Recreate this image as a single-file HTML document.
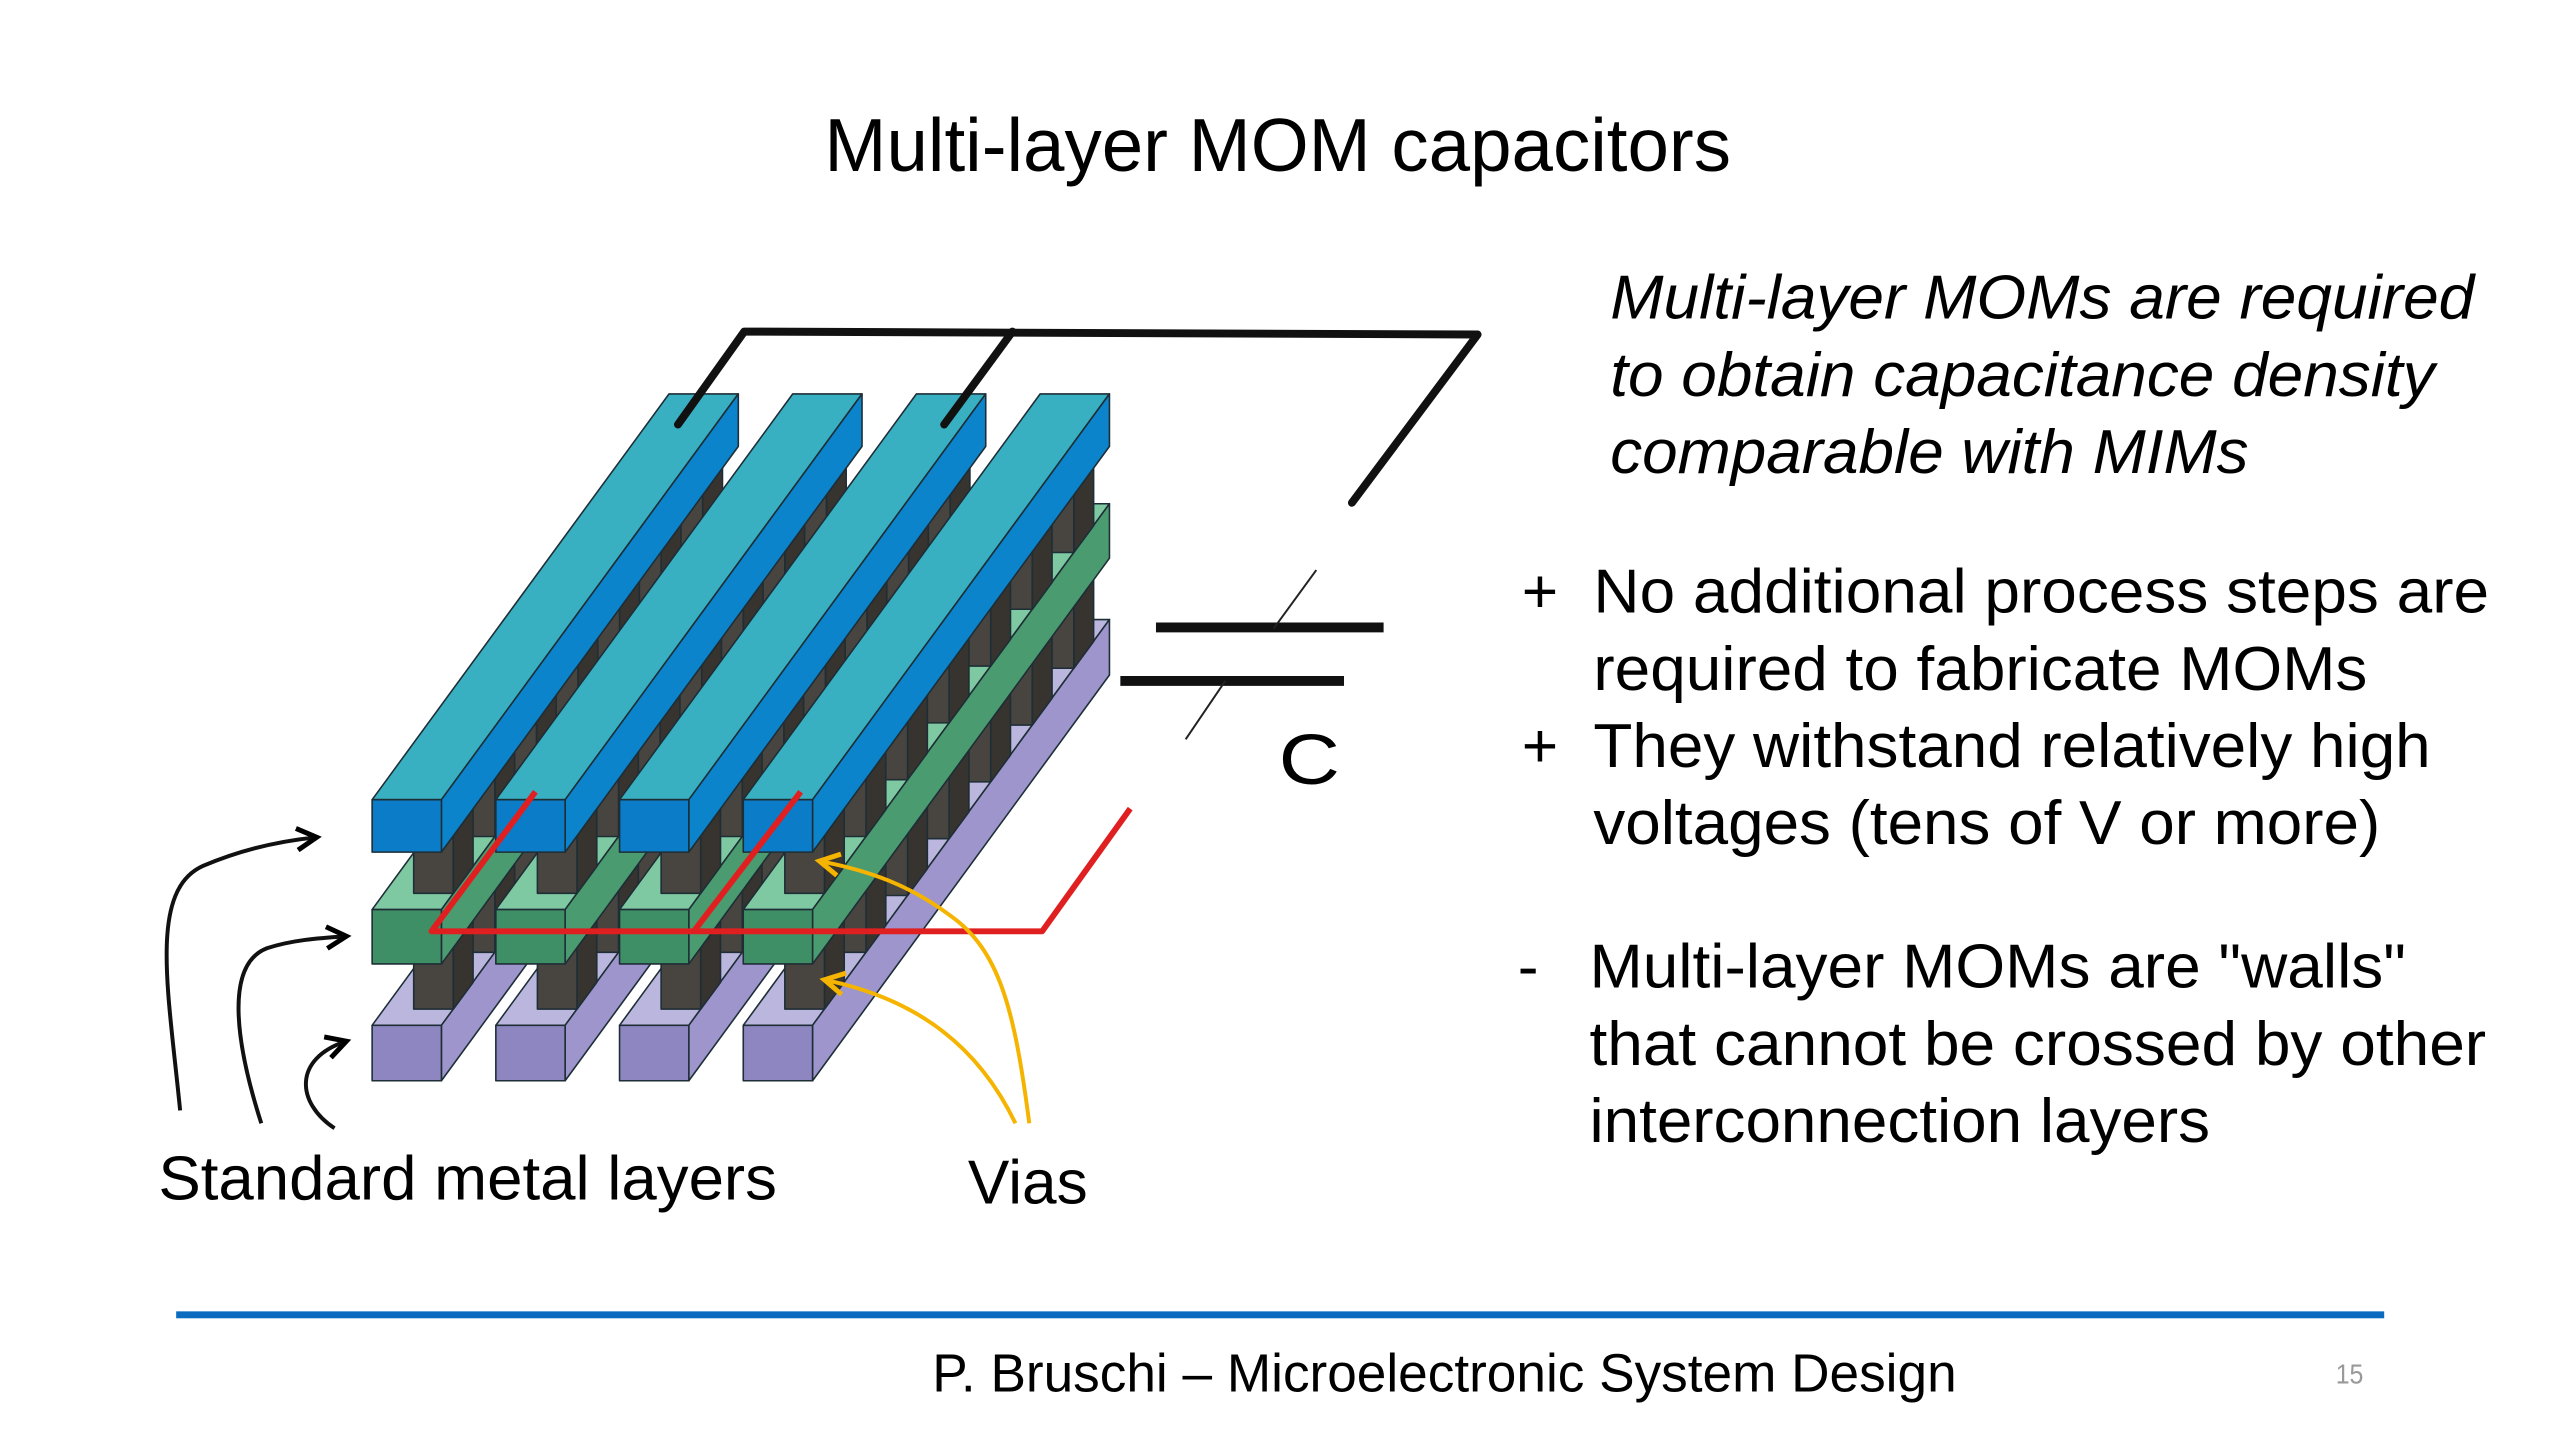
<!DOCTYPE html>
<html><head><meta charset="utf-8"><style>
html,body{margin:0;padding:0;background:#fff;width:2560px;height:1440px;overflow:hidden}
svg{display:block}
text{font-family:"Liberation Sans",Arial,sans-serif;fill:#000}
</style></head><body>
<svg id="s" width="2560" height="1440" viewBox="0 0 2560 1440" xmlns="http://www.w3.org/2000/svg">
<defs>
<marker id="ay" markerWidth="30" markerHeight="30" refX="24" refY="15" orient="auto" markerUnits="userSpaceOnUse"><path d="M4,4 L24,15 L4,26" fill="none" stroke="#f5b400" stroke-width="5"/></marker>
<marker id="ab" markerWidth="30" markerHeight="30" refX="24" refY="15" orient="auto" markerUnits="userSpaceOnUse"><path d="M4,4 L24,15 L4,26" fill="none" stroke="#000" stroke-width="5"/></marker>
</defs>
<g transform="scale(0.9897)">
<text x="1291" y="173" font-size="76" text-anchor="middle" textLength="916" lengthAdjust="spacingAndGlyphs">Multi-layer MOM capacitors</text>
<g id="d"></g>
<g font-style="italic" font-size="63">
<text x="1627" y="322" textLength="873" lengthAdjust="spacingAndGlyphs">Multi-layer MOMs are required</text>
<text x="1627" y="400" textLength="833" lengthAdjust="spacingAndGlyphs">to obtain capacitance density</text>
<text x="1627" y="478" textLength="645" lengthAdjust="spacingAndGlyphs">comparable with MIMs</text>
</g>
<g font-size="63">
<text x="1556" y="619" text-anchor="middle">+</text>
<text x="1610" y="619" textLength="905" lengthAdjust="spacingAndGlyphs">No additional process steps are</text>
<text x="1610" y="697" textLength="782" lengthAdjust="spacingAndGlyphs">required to fabricate MOMs</text>
<text x="1556" y="775" text-anchor="middle">+</text>
<text x="1610" y="775" textLength="846" lengthAdjust="spacingAndGlyphs">They withstand relatively high</text>
<text x="1610" y="853" textLength="795" lengthAdjust="spacingAndGlyphs">voltages (tens of V or more)</text>
<text x="1544" y="998" text-anchor="middle">-</text>
<text x="1606" y="998" textLength="825" lengthAdjust="spacingAndGlyphs">Multi-layer MOMs are "walls"</text>
<text x="1606" y="1076" textLength="906" lengthAdjust="spacingAndGlyphs">that cannot be crossed by other</text>
<text x="1606" y="1154" textLength="627" lengthAdjust="spacingAndGlyphs">interconnection layers</text>
<text x="160" y="1212" textLength="625" lengthAdjust="spacingAndGlyphs">Standard metal layers</text>
<text x="978" y="1216" textLength="121" lengthAdjust="spacingAndGlyphs">Vias</text>
</g>
<text x="1292" y="792" font-size="72" textLength="62" lengthAdjust="spacingAndGlyphs">C</text>
<rect x="178" y="1325" width="2231" height="7" fill="#0b6cbf"/>
<text x="942" y="1406" font-size="54" textLength="1035" lengthAdjust="spacingAndGlyphs">P. Bruschi – Microelectronic System Design</text>
<text x="2360" y="1398" font-size="28" style="fill:#999" textLength="28" lengthAdjust="spacingAndGlyphs">15</text>
</g>
</svg>
<script>
(function(){
var g=document.getElementById('d'),h='';
var DX=300,DY=-410;
function P(pts,fill){h+='<polygon points="'+pts.map(function(p){return p[0].toFixed(1)+','+p[1].toFixed(1)}).join(' ')+'" fill="'+fill+'" stroke="#1e2e36" stroke-width="1.6" stroke-linejoin="round"/>';}
function box(x,y,w,hh,dx,dy,ct,cf,cs){
 P([[x,y],[x+w,y],[x+w+dx,y+dy],[x+dx,y+dy]],ct);
 P([[x+w,y],[x+w+dx,y+dy],[x+w+dx,y+dy+hh],[x+w,y+hh]],cs);
 P([[x,y],[x+w,y],[x+w,y+hh],[x,y+hh]],cf);
}
var X=[376,501,626,751],W=70;
function layer(y,hh,ct,cf,cs){for(var i=0;i<4;i++)box(X[i],y,W,hh,DX,DY,ct,cf,cs);}
function vias(yTop,yBot){
 var ts=[0.88,0.74,0.60,0.46,0.32,0.18,0.04];
 for(var k=0;k<ts.length;k++){var t=ts[k];
  for(var i=0;i<4;i++){
   var x=X[i]+30+DX*t,yt=yTop+DY*t,yb=yBot+DY*t;
   box(x,yt,40,yb-yt,20,-27,'#5a5650','#48443f','#37332f');
  }}
}
layer(1036,56,'#bbb6de','#8e86c0','#9d95cc');
vias(974,1036);
layer(919,55,'#7ec8a2','#3f8f66','#4b9b70');
vias(861,919);
layer(808,53,'#39b0c2','#0a7cc8','#0b84cc');
h+='<polyline points="685,429 752,335 1493,338 1366,508" fill="none" stroke="#111" stroke-width="8" stroke-linejoin="round" stroke-linecap="round"/>';
h+='<polyline points="954,429 1023,335" fill="none" stroke="#111" stroke-width="8" stroke-linecap="round"/>';
h+='<line x1="1168" y1="634" x2="1398" y2="634" stroke="#111" stroke-width="10"/>';
h+='<line x1="1132" y1="688" x2="1358" y2="688" stroke="#111" stroke-width="10"/>';
h+='<line x1="1330" y1="576" x2="1287" y2="635" stroke="#222" stroke-width="2"/>';
h+='<line x1="1238" y1="688" x2="1198" y2="747" stroke="#222" stroke-width="2"/>';
h+='<polyline points="1142,817 1053,941 436,941 541,800" fill="none" stroke="#e02020" stroke-width="6" stroke-linejoin="round"/>';
h+='<polyline points="701,941 809,800" fill="none" stroke="#e02020" stroke-width="6"/>';
h+='<path d="M1040,1135 C1025,1020 1010,960 960,925 C920,895 880,880 828,870" fill="none" stroke="#f5b400" stroke-width="4" marker-end="url(#ay)"/>';
h+='<path d="M1026,1135 C990,1060 930,1010 833,990" fill="none" stroke="#f5b400" stroke-width="4" marker-end="url(#ay)"/>';
h+='<path d="M182,1122 C170,1000 150,900 205,875 C240,860 280,850 320,846" fill="none" stroke="#111" stroke-width="4" marker-end="url(#ab)"/>';
h+='<path d="M264,1135 C240,1060 225,975 270,958 C295,950 320,948 350,946" fill="none" stroke="#111" stroke-width="4" marker-end="url(#ab)"/>';
h+='<path d="M338,1140 C300,1115 295,1070 350,1052" fill="none" stroke="#111" stroke-width="4" marker-end="url(#ab)"/>';
g.innerHTML=h;
})();
</script>
</body></html>
